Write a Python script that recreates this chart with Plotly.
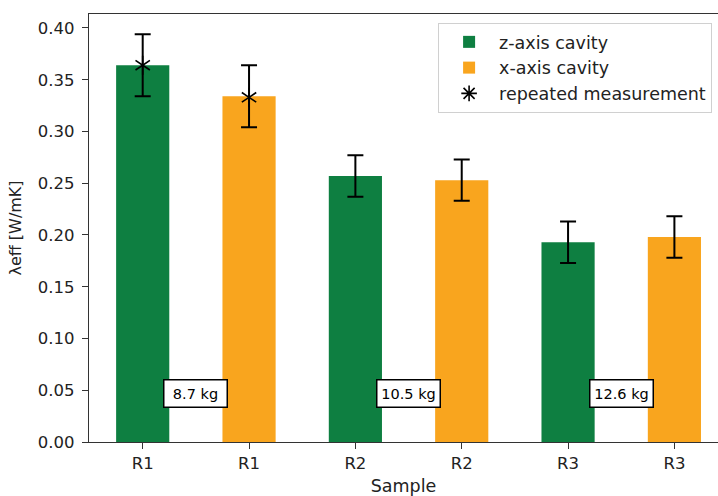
import plotly.graph_objects as go

samples = ["R1", "R1", "R2", "R2", "R3", "R3"]
z_values = [0.364, 0.257, 0.193]
z_err = [0.030, 0.020, 0.020]
x_values = [0.334, 0.253, 0.198]
x_err = [0.030, 0.020, 0.020]
repeated_values = [0.364, 0.333]
masses = ["8.7 kg", "10.5 kg", "12.6 kg"]
yticks = [0.0, 0.05, 0.10, 0.15, 0.20, 0.25, 0.30, 0.35, 0.40]

GREEN = "#0e7f41"
ORANGE = "#f9a51e"
FONT = "DejaVu Sans"

z_pos = [2 * i for i in range(len(z_values))]
x_pos = [2 * i + 1 for i in range(len(x_values))]
rep_pos = [0, 1]
mass_pos = [2 * i + 0.5 for i in range(len(masses))]

fig = go.Figure()
fig.add_trace(go.Bar(
    x=z_pos, y=z_values, width=0.5, name="z-axis cavity",
    marker=dict(color=GREEN, line=dict(width=0)),
    error_y=dict(type="data", array=z_err, color="black", thickness=2, width=8),
))
fig.add_trace(go.Bar(
    x=x_pos, y=x_values, width=0.5, name="x-axis cavity",
    marker=dict(color=ORANGE, line=dict(width=0)),
    error_y=dict(type="data", array=x_err, color="black", thickness=2, width=8),
))
for sym in ["y-up-open", "y-down-open"]:
    fig.add_trace(go.Scatter(
        x=rep_pos, y=repeated_values, mode="markers", showlegend=False,
        marker=dict(symbol=sym, size=12, color="black",
                    line=dict(color="black", width=1.6)),
    ))
fig.add_trace(go.Scatter(
    x=[None], y=[None], mode="markers", name="repeated measurement",
    marker=dict(symbol="asterisk-open", size=13, color="black",
                line=dict(color="black", width=1.6)),
))

for xp, label in zip(mass_pos, masses):
    fig.add_annotation(
        x=xp, y=0.047, text=label, showarrow=False, width=58, height=22,
        font=dict(family=FONT, size=14.5, color="black"),
        bgcolor="white", bordercolor="black", borderwidth=1.5, borderpad=2,
    )

fig.update_layout(
    width=718, height=496,
    margin=dict(l=89, r=0, t=14, b=54),
    plot_bgcolor="white", paper_bgcolor="white",
    font=dict(family=FONT, size=16, color="#222"),
    barmode="overlay",
    showlegend=True,
    legend=dict(
        x=0.555, y=0.979, xanchor="left", yanchor="top",
        bgcolor="white", bordercolor="#d0d0d0", borderwidth=1,
        font=dict(family=FONT, size=17.5, color="#222"),
        itemwidth=50,
    ),
    xaxis=dict(
        range=[-0.505, 5.41],
        tickmode="array", tickvals=list(range(len(samples))), ticktext=samples,
        showline=True, linecolor="#333", linewidth=1.2, mirror=True,
        ticks="outside", ticklen=6, tickcolor="#333", showgrid=False, zeroline=False,
        tickfont=dict(family=FONT, size=16.5, color="#222"),
        title=dict(text="Sample", font=dict(family=FONT, size=17.5, color="#222"), standoff=9),
    ),
    yaxis=dict(
        range=[0, 0.4135],
        tickmode="array", tickvals=yticks, tickformat=".2f",
        showline=True, linecolor="#333", linewidth=1.2, mirror=False,
        ticks="outside", ticklen=6, tickcolor="#333", showgrid=False, zeroline=False,
        ticklabelstandoff=4,
        tickfont=dict(family=FONT, size=16.5, color="#222"),
        title=dict(text="λeff [W/mK]", font=dict(family=FONT, size=16, color="#222"), standoff=12),
    ),
)

fig.write_html("out.html", config={"displayModeBar": False},
               post_script="document.body.style.margin='0';document.body.style.overflow='hidden';")
